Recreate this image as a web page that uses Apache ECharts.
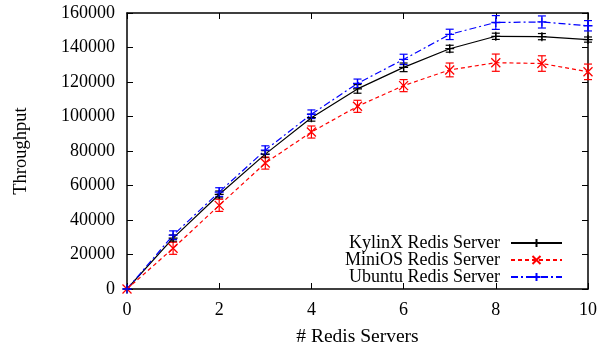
<!DOCTYPE html>
<html><head><meta charset="utf-8">
<script src="https://cdn.jsdelivr.net/npm/echarts@6/dist/echarts.min.js"></script>
<style>html,body{margin:0;padding:0;background:#fff}#c{width:600px;height:352px}</style>
</head><body><div id="c"></div>
<script>
const servers = [0,1,2,3,4,5,6,7,8,9,10];
const kylinx    = [0, 29500, 54800, 78200, 99300, 116000, 128500, 139300, 146500, 146300, 144600];
const kylinxErr = [0, 1800, 2000, 2000, 2000, 2500, 2500, 2000, 1800, 1800, 1500];
const minios    = [0, 23600, 48500, 73000, 91000, 105900, 117900, 127000, 131200, 130700, 125900];
const miniosErr = [0, 3500, 3500, 3500, 3500, 3500, 3500, 4000, 5000, 4500, 4500];
const ubuntu    = [0, 31200, 56200, 80500, 101300, 119200, 133100, 147600, 154500, 154800, 152600];
const ubuntuErr = [0, 2500, 2500, 2500, 2500, 2500, 3000, 3000, 4000, 3500, 3000];
const names = ['KylinX Redis Server','MiniOS Redis Server','Ubuntu Redis Server'];

const FONT = '"Liberation Serif","Times New Roman",serif';
const PLUS = 'path://M0,5L10,5M5,0L5,10';
const CROSS = 'path://M0,0L10,10M10,0L0,10';

function pairs(ys){ return servers.map((x,i)=>[x, ys[i]]); }
function errData(ys, es){ return servers.map((x,i)=>[x, ys[i], es[i]]); }

function errSeries(ys, es, color){
  return {
    type:'custom', silent:true, z:3,
    data: errData(ys, es),
    renderItem: function(params, api){
      const x = api.value(0), y = api.value(1), e = api.value(2);
      if (e <= 0) return null;
      const top = api.coord([x, y+e]);
      const bot = api.coord([x, y-e]);
      const w = 4;
      const st = {stroke: color, lineWidth: 1.2};
      return {type:'group', children:[
        {type:'line', shape:{x1:top[0], y1:top[1], x2:bot[0], y2:bot[1]}, style:st},
        {type:'line', shape:{x1:top[0]-w, y1:top[1], x2:top[0]+w, y2:top[1]}, style:st},
        {type:'line', shape:{x1:bot[0]-w, y1:bot[1], x2:bot[0]+w, y2:bot[1]}, style:st}
      ]};
    }
  };
}

function lineSeries(name, ys, color, type, sym){
  return {
    name, type:'line', data: pairs(ys), z:4,
    symbol: sym, symbolSize: 9, showAllSymbol:true,
    itemStyle:{color: color, borderColor: color, borderWidth: 1.3},
    lineStyle:{color: color, width: 1.2, type: type},
    emphasis:{disabled:true}, animation:false
  };
}

const tickStyle = {show:true, inside:true, length:6, lineStyle:{color:'#000', width:1}};
const axisLineStyle = {show:true, onZero:false, lineStyle:{color:'#000', width:1.5}};

const chart = echarts.init(document.getElementById('c'));
chart.setOption({
  animation:false,
  backgroundColor:'#fff',
  grid:{left:127, right:10, top:13, bottom:59},
  legend:{
    orient:'vertical', right:32, top:229, align:'right',
    itemWidth:51, itemHeight:10, itemGap:-1,
    data: names,
    textStyle:{fontFamily:FONT, fontSize:18, lineHeight:17.5, color:'#000', padding:[0,6,0,0]}
  },
  xAxis:[
    {
      type:'value', min:0, max:10, interval:2, position:'bottom',
      axisLine:axisLineStyle, splitLine:{show:false}, axisTick:tickStyle,
      axisLabel:{fontFamily:FONT, fontSize:18, color:'#000', margin:12},
      name:'# Redis Servers', nameLocation:'middle', nameGap:38,
      nameTextStyle:{fontFamily:FONT, fontSize:19.5, color:'#000'}
    },
    {
      type:'value', min:0, max:10, interval:2, position:'top',
      axisLine:axisLineStyle, splitLine:{show:false}, axisTick:tickStyle,
      axisLabel:{show:false}
    }
  ],
  yAxis:[
    {
      type:'value', min:0, max:160000, interval:20000, position:'left',
      axisLine:axisLineStyle, splitLine:{show:false}, axisTick:tickStyle,
      axisLabel:{fontFamily:FONT, fontSize:18, color:'#000', margin:12, formatter: v => String(v)},
      name:'Throughput', nameLocation:'middle', nameGap:96, nameRotate:90,
      nameTextStyle:{fontFamily:FONT, fontSize:18.5, color:'#000'}
    },
    {
      type:'value', min:0, max:160000, interval:20000, position:'right',
      axisLine:axisLineStyle, splitLine:{show:false}, axisTick:tickStyle,
      axisLabel:{show:false}
    }
  ],
  series:[
    lineSeries(names[0], kylinx, '#000000', 'solid', PLUS),
    lineSeries(names[1], minios, '#ff0000', [4,3], CROSS),
    lineSeries(names[2], ubuntu, '#0000ff', [7,3,2,3], PLUS),
    errSeries(kylinx, kylinxErr, '#000000'),
    errSeries(minios, miniosErr, '#ff0000'),
    errSeries(ubuntu, ubuntuErr, '#0000ff')
  ]
});
</script></body></html>
